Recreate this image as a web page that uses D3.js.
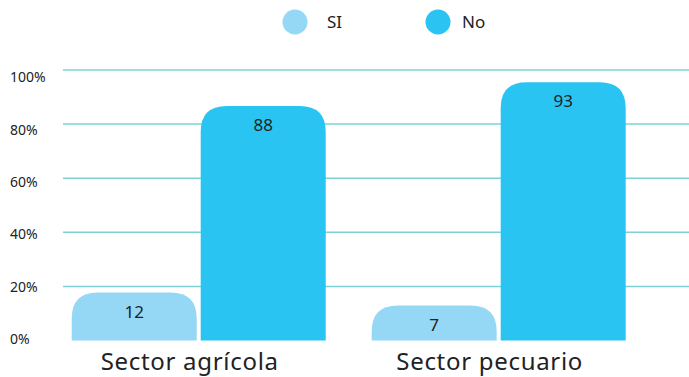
<!DOCTYPE html>
<html>
<head>
<meta charset="utf-8">
<script src="https://cdn.jsdelivr.net/npm/d3@7"></script>
<style>
  body { margin: 0; background: #fff; }
  svg text { font-family: "Noto Sans", sans-serif; fill: #222; }
</style>
</head>
<body>
<div id="chart"></div>
<script>
// chart data
var sectors = ["Sector agrícola", "Sector pecuario"];
var series = ["SI", "No"];
var siLabels = [12, 7];
var noLabels = [88, 93];
// bar heights as drawn in the picture (percent)
var siBars = [17.7, 12.9];
var noBars = [86.7, 95.5];
var yTicks = [0, 20, 40, 60, 80, 100];
var colors = ["#95d8f6", "#29c4f2"];

var width = 689, height = 377;

var svg = d3.select("#chart").append("svg")
    .attr("width", width)
    .attr("height", height);

var y = d3.scaleLinear().domain([0, 100]).range([340.5, 70]);
// tick labels sit a bit off the lines in the original
var yLabel = d3.scaleLinear().domain([0, 100]).range([339, 77.5]);

var x0 = d3.scaleBand().domain(sectors)
    .range([48.7, 648.7])
    .paddingInner(0.1533)
    .paddingOuter(0.0767);
var x1 = d3.scaleBand().domain(series)
    .range([0, x0.bandwidth()])
    .paddingInner(0.031);
var color = d3.scaleOrdinal().domain(series).range(colors);

// gridlines
svg.append("g").selectAll("line")
    .data(yTicks.filter(d => d > 0))
    .join("line")
    .attr("x1", 63).attr("x2", width)
    .attr("y1", d => y(d)).attr("y2", d => y(d))
    .attr("stroke", "#7dd3d3")
    .attr("stroke-width", 1.5);

svg.append("g").selectAll("text")
    .data(yTicks)
    .join("text")
    .attr("x", 10)
    .attr("y", d => yLabel(d))
    .attr("dy", "0.35em")
    .style("font-size", "14px")
    .text(d => d + "%");

var rows = sectors.map((s, i) => ({
    sector: s,
    bars: [
        { key: "SI", h: siBars[i], label: siLabels[i] },
        { key: "No", h: noBars[i], label: noLabels[i] }
    ]
}));

// bar with rounded top corners
function topRounded(x, yTop, w, h, r) {
    r = Math.min(r, h, w / 2);
    return "M" + x + "," + (yTop + h) +
        "V" + (yTop + r) +
        "Q" + x + "," + yTop + " " + (x + r) + "," + yTop +
        "H" + (x + w - r) +
        "Q" + (x + w) + "," + yTop + " " + (x + w) + "," + (yTop + r) +
        "V" + (yTop + h) + "Z";
}

var groups = svg.append("g").selectAll("g")
    .data(rows)
    .join("g")
    .attr("transform", d => "translate(" + x0(d.sector) + ",0)");

groups.selectAll("path")
    .data(d => d.bars)
    .join("path")
    .attr("d", d => topRounded(x1(d.key), y(d.h), x1.bandwidth(), y(0) - y(d.h), 26))
    .attr("fill", d => color(d.key));

groups.selectAll("text")
    .data(d => d.bars)
    .join("text")
    .attr("x", d => x1(d.key) + x1.bandwidth() / 2)
    .attr("y", d => y(d.h) + 25)
    .attr("text-anchor", "middle")
    .style("font-size", "17px")
    .text(d => d.label);

// category labels
svg.append("g").selectAll("text")
    .data(sectors)
    .join("text")
    .attr("x", d => x0(d) + x0.bandwidth() / 2 - 9)
    .attr("y", 370)
    .attr("text-anchor", "middle")
    .style("font-size", "24px")
    .style("letter-spacing", "0.7px")
    .text(d => d);

// legend
var legendX = [295, 438];
var legendTextX = [327, 462];
var legend = svg.append("g").selectAll("g")
    .data(series)
    .join("g")
    .attr("transform", (d, i) => "translate(" + legendX[i] + ",22)");
legend.append("circle")
    .attr("r", 12.5)
    .attr("fill", d => color(d));
legend.append("text")
    .attr("x", (d, i) => legendTextX[i] - legendX[i])
    .attr("dy", "0.35em")
    .style("font-size", "17px")
    .text(d => d);
</script>
</body>
</html>
